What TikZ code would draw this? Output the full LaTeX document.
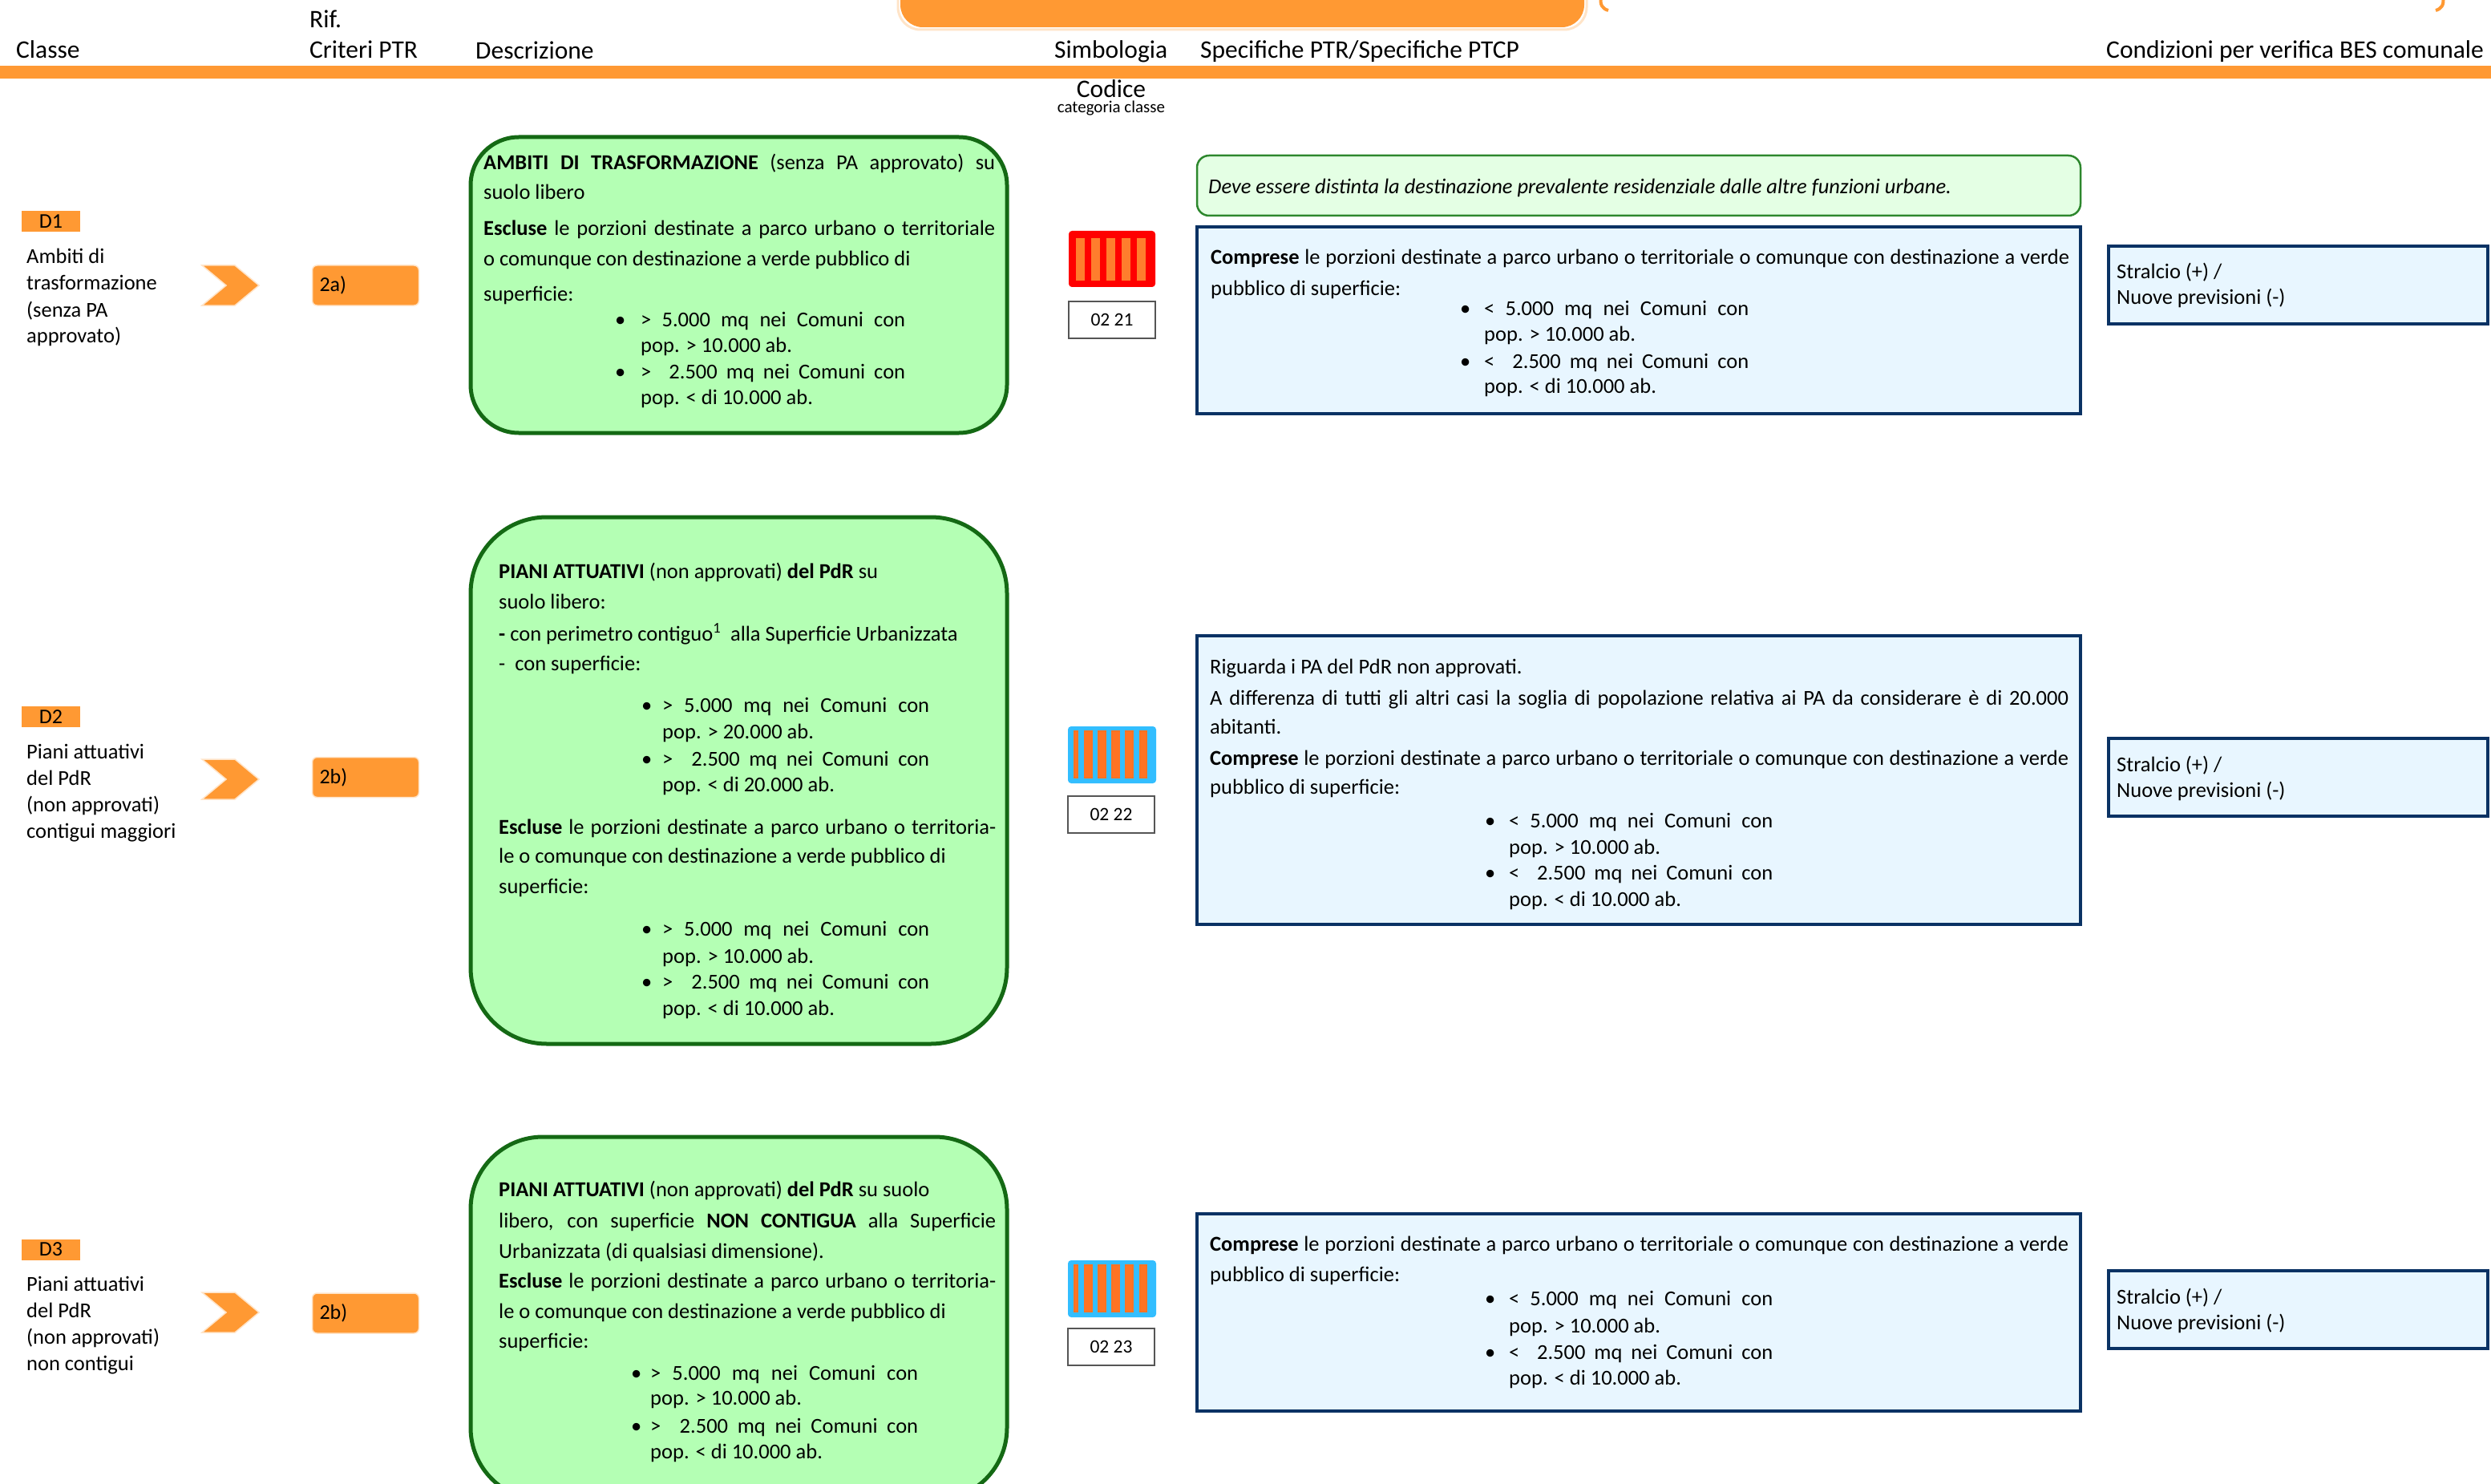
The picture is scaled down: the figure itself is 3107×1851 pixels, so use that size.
\documentclass[tikz,border=0pt]{standalone}
\usepackage{fontspec}
\setmainfont{Carlito}
\usepackage{tikz}
\usetikzlibrary{shapes,arrows}
\definecolor{arancio}{RGB}{255,153,51}
\definecolor{pesca}{RGB}{255,228,200}
\definecolor{verdechiaro}{RGB}{180,255,180}
\definecolor{verdescuro}{RGB}{20,105,20}
\definecolor{verdenota}{RGB}{228,255,228}
\definecolor{verdebordo}{RGB}{45,135,45}
\definecolor{azzurro}{RGB}{232,246,255}
\definecolor{blunotte}{RGB}{10,50,100}
\definecolor{celeste}{RGB}{51,190,255}
\definecolor{rosso}{RGB}{255,0,0}
\definecolor{barra}{RGB}{255,115,35}
\definecolor{barrachiara}{RGB}{255,125,45}
\definecolor{grigio}{RGB}{85,85,85}

\tikzset{
  hdr/.style={anchor=base west, inner sep=0pt, font=\fontsize{31.5}{36}\selectfont},
  txt/.style={anchor=base west, inner sep=0pt, font=\fontsize{26.5}{32}\selectfont},
  tagbox/.style={fill=arancio, minimum width=73pt, minimum height=26pt, inner sep=0pt, font=\fontsize{26}{30}\selectfont},
  rifbox/.style={fill=arancio, draw=pesca, line width=1.5pt, rounded corners=6pt, minimum width=133pt, minimum height=50pt, text width=115pt, align=left, inner sep=9pt, font=\fontsize{26}{30}\selectfont},
  chevron/.style={fill=arancio, draw=pesca, line width=1.5pt},
  greenbox/.style={fill=verdechiaro, draw=verdescuro, line width=5pt},
  notebox/.style={fill=verdenota, draw=verdebordo, line width=2.5pt, rounded corners=15pt},
  bluebox/.style={fill=azzurro, draw=blunotte, line width=3.5pt},
  codebox/.style={draw=grigio, line width=2pt, fill=white, minimum width=108pt, minimum height=46pt, inner sep=0pt, font=\fontsize{23.5}{28}\selectfont}
}

\begin{document}
\begin{tikzpicture}[x=1pt,y=-1pt]
     \clip (0,0) rectangle (3107,1851);
     % testata
     \draw [pesca, line width=3pt, rounded corners=28pt] (1120,-60) rectangle (1979,37);
     \fill [arancio, rounded corners=28pt] (1123,-60) rectangle (1976,34);
     \draw [arancio, line width=4pt] (1997,-4) .. controls (1995,6) and (1999,11) .. (2006,13);
     \draw [arancio, line width=4pt] (3047,-4) .. controls (3049,6) and (3045,11) .. (3038,13);
     \fill [arancio] (0,82) rectangle (3107,98);
     \node [hdr] (hclasse) at (20,73) {Classe};
     \node [hdr] (hrif) at (386,35) {Rif.};
     \node [hdr] (hcriteri) at (386,73) {Criteri PTR};
     \node [hdr] (hdescr) at (593,74) {Descrizione};
     \node [hdr] (hsimb) at (1315,73) {Simbologia};
     \node [hdr] (hspec) at (1497,73) {Specifiche PTR/Specifiche PTCP};
     \node [hdr] (hcond) at (2627,73) {Condizioni per verifica BES comunale};
     \node [hdr, anchor=base] (hcodice) at (1386,122) {Codice};
     \node [anchor=base, inner sep=0pt, font=\fontsize{21}{24}\selectfont] (hcat) at (1386,141) {categoria classe};

     % riga D1
     \node [tagbox] (tag1) at (63.5,276) {D1};
     \node [txt] (cl1a) at (33,329) {Ambiti di};
     \node [txt] (cl1b) at (33,362) {trasformazione};
     \node [txt] (cl1c) at (33,395) {(senza PA};
     \node [txt] (cl1d) at (33,427) {approvato)};
     \draw [chevron] (252,331) -- (293,331) -- (323,356) -- (293,381) -- (252,381) -- (282,356) -- cycle;
     \node [rifbox] (rif1) at (456,356) {2a)};
     \draw [greenbox, rounded corners=60pt] (587,171) rectangle (1256,540);
     \node [txt] (ds1a) at (603,212) {\makebox[638pt][s]{\textbf{AMBITI DI TRASFORMAZIONE} (senza PA approvato) su}};
     \node [txt] (ds1b) at (603,249) {suolo libero};
     \node [txt] (ds1c) at (603,294) {\makebox[638pt][s]{\textbf{Escluse} le porzioni destinate a parco urbano o territoriale}};
     \node [txt] (ds1d) at (603,332) {o comunque con destinazione a verde pubblico di};
     \node [txt] (ds1e) at (603,375) {superficie:};
     \node [txt] (ds1f) at (767,407) {\makebox[32pt][l]{\textbullet}\makebox[330pt][s]{> 5.000 mq nei Comuni con}};
     \node [txt] (ds1g) at (799,439) {pop. > 10.000 ab.};
     \node [txt] (ds1h) at (767,472) {\makebox[32pt][l]{\textbullet}\makebox[330pt][s]{>\ \ 2.500 mq nei Comuni con}};
     \node [txt] (ds1i) at (799,504) {pop. < di 10.000 ab.};
     \fill [rosso, rounded corners=4pt] (1333,288) rectangle (1441,358);
     \fill [barrachiara] (1342,297) rectangle (1353,350);
     \fill [barrachiara] (1361,297) rectangle (1372,350);
     \fill [barrachiara] (1380,297) rectangle (1391,350);
     \fill [barrachiara] (1399,297) rectangle (1410,350);
     \fill [barrachiara] (1418,297) rectangle (1429,350);
     \node [codebox] (code1) at (1387,398.5) {02 21};
     \draw [notebox] (1493,194) rectangle (2595,269);
     \node [txt, font=\fontsize{26.5}{30}\selectfont\itshape] (nota1) at (1507,242) {Deve essere distinta la destinazione prevalente residenziale dalle altre funzioni urbane.};
     \draw [bluebox] (1493,283) rectangle (2595,516);
     \node [txt] (sp1a) at (1510,330) {\makebox[1071pt][s]{\textbf{Comprese} le porzioni destinate a parco urbano o territoriale o comunque con destinazione a verde}};
     \node [txt] (sp1b) at (1510,369) {pubblico di superficie:};
     \node [txt] (sp1c) at (1821,393) {\makebox[30pt][l]{\textbullet}\makebox[330pt][s]{< 5.000 mq nei Comuni con}};
     \node [txt] (sp1d) at (1851,425) {pop. > 10.000 ab.};
     \node [txt] (sp1e) at (1821,459) {\makebox[30pt][l]{\textbullet}\makebox[330pt][s]{<\ \ 2.500 mq nei Comuni con}};
     \node [txt] (sp1f) at (1851,490) {pop. < di 10.000 ab.};
     \draw [bluebox] (2630,307) rectangle (3103,404);
     \node [txt] (bes1a) at (2640,348) {Stralcio (+) /};
     \node [txt] (bes1b) at (2640,380) {Nuove previsioni (-)};

     % riga D2
     \node [tagbox] (tag2) at (63.5,894) {D2};
     \node [txt] (cl2a) at (33,946) {Piani attuativi};
     \node [txt] (cl2b) at (33,979) {del PdR};
     \node [txt] (cl2c) at (33,1012) {(non approvati)};
     \node [txt] (cl2d) at (33,1045) {contigui maggiori};
     \draw [chevron] (252,947) -- (293,947) -- (323,972) -- (293,997) -- (252,997) -- (282,972) -- cycle;
     \node [rifbox] (rif2) at (456,969.5) {2b)};
     \draw [greenbox, rounded corners=95pt] (587,645) rectangle (1256,1302);
     \node [txt] (ds2a) at (622,721) {\textbf{PIANI ATTUATIVI} (non approvati) \textbf{del PdR} su};
     \node [txt] (ds2b) at (622,759) {suolo libero:};
     \node [txt] (ds2c) at (622,799) {\textbf{-} con perimetro contiguo\textsuperscript{1}\ \ alla Superficie Urbanizzata};
     \node [txt] (ds2d) at (622,836) {-\ \ con superficie:};
     \node [txt] (ds2e) at (800,888) {\makebox[26pt][l]{\textbullet}\makebox[333pt][s]{> 5.000 mq nei Comuni con}};
     \node [txt] (ds2f) at (826,921) {pop. > 20.000 ab.};
     \node [txt] (ds2g) at (800,955) {\makebox[26pt][l]{\textbullet}\makebox[333pt][s]{>\ \ 2.500 mq nei Comuni con}};
     \node [txt] (ds2h) at (826,987) {pop. < di 20.000 ab.};
     \node [txt] (ds2i) at (622,1040) {\makebox[620pt][s]{\textbf{Escluse} le porzioni destinate a parco urbano o territoria-}};
     \node [txt] (ds2j) at (622,1076) {le o comunque con destinazione a verde pubblico di};
     \node [txt] (ds2k) at (622,1114) {superficie:};
     \node [txt] (ds2l) at (800,1167) {\makebox[26pt][l]{\textbullet}\makebox[333pt][s]{> 5.000 mq nei Comuni con}};
     \node [txt] (ds2m) at (826,1201) {pop. > 10.000 ab.};
     \node [txt] (ds2n) at (800,1233) {\makebox[26pt][l]{\textbullet}\makebox[333pt][s]{>\ \ 2.500 mq nei Comuni con}};
     \node [txt] (ds2o) at (826,1266) {pop. < di 10.000 ab.};
     \fill [celeste, rounded corners=4pt] (1332,906) rectangle (1442,977);
     \fill [barra] (1339,911) rectangle (1345,971);
     \fill [barra] (1352,911) rectangle (1363,971);
     \fill [barra] (1369,911) rectangle (1380,971);
     \fill [barra] (1386,911) rectangle (1397,971);
     \fill [barra] (1403,911) rectangle (1414,971);
     \fill [barra] (1421,911) rectangle (1431,971);
     \node [codebox] (code2) at (1386,1016) {02 22};
     \draw [bluebox] (1493,793) rectangle (2595,1153);
     \node [txt] (sp2a) at (1509,840) {Riguarda i PA del PdR non approvati.};
     \node [txt] (sp2b) at (1509,879) {\makebox[1071pt][s]{A differenza di tutti gli altri casi la soglia di popolazione relativa ai PA da considerare è di 20.000}};
     \node [txt] (sp2c) at (1509,915) {abitanti.};
     \node [txt] (sp2d) at (1509,954) {\makebox[1071pt][s]{\textbf{Comprese} le porzioni destinate a parco urbano o territoriale o comunque con destinazione a verde}};
     \node [txt] (sp2e) at (1509,990) {pubblico di superficie:};
     \node [txt] (sp2f) at (1852,1032) {\makebox[30pt][l]{\textbullet}\makebox[329pt][s]{< 5.000 mq nei Comuni con}};
     \node [txt] (sp2g) at (1882,1065) {pop. > 10.000 ab.};
     \node [txt] (sp2h) at (1852,1097) {\makebox[30pt][l]{\textbullet}\makebox[329pt][s]{<\ \ 2.500 mq nei Comuni con}};
     \node [txt] (sp2i) at (1882,1130) {pop. < di 10.000 ab.};
     \draw [bluebox] (2630,921) rectangle (3103,1018);
     \node [txt] (bes2a) at (2640,962) {Stralcio (+) /};
     \node [txt] (bes2b) at (2640,994) {Nuove previsioni (-)};

     % riga D3
     \node [tagbox] (tag3) at (63.5,1558.5) {D3};
     \node [txt] (cl3a) at (33,1610) {Piani attuativi};
     \node [txt] (cl3b) at (33,1643) {del PdR};
     \node [txt] (cl3c) at (33,1676) {(non approvati)};
     \node [txt] (cl3d) at (33,1709) {non contigui};
     \draw [chevron] (252,1612) -- (293,1612) -- (323,1637) -- (293,1662) -- (252,1662) -- (282,1637) -- cycle;
     \node [rifbox] (rif3) at (456,1638) {2b)};
     \draw [greenbox, rounded corners=90pt] (587,1418) rectangle (1256,1871);
     \node [txt] (ds3a) at (622,1492) {\textbf{PIANI ATTUATIVI} (non approvati) \textbf{del PdR} su suolo};
     \node [txt] (ds3b) at (622,1531) {\makebox[620pt][s]{libero, con superficie \textbf{NON CONTIGUA} alla Superficie}};
     \node [txt] (ds3c) at (622,1569) {Urbanizzata (di qualsiasi dimensione).};
     \node [txt] (ds3d) at (622,1606) {\makebox[620pt][s]{\textbf{Escluse} le porzioni destinate a parco urbano o territoria-}};
     \node [txt] (ds3e) at (622,1644) {le o comunque con destinazione a verde pubblico di};
     \node [txt] (ds3f) at (622,1681) {superficie:};
     \node [txt] (ds3g) at (787,1721) {\makebox[24pt][l]{\textbullet}\makebox[334pt][s]{> 5.000 mq nei Comuni con}};
     \node [txt] (ds3h) at (811,1752) {pop. > 10.000 ab.};
     \node [txt] (ds3i) at (787,1787) {\makebox[24pt][l]{\textbullet}\makebox[334pt][s]{>\ \ 2.500 mq nei Comuni con}};
     \node [txt] (ds3j) at (811,1819) {pop. < di 10.000 ab.};
     \fill [celeste, rounded corners=4pt] (1332,1572) rectangle (1442,1643);
     \fill [barra] (1339,1577) rectangle (1345,1637);
     \fill [barra] (1352,1577) rectangle (1363,1637);
     \fill [barra] (1369,1577) rectangle (1380,1637);
     \fill [barra] (1386,1577) rectangle (1397,1637);
     \fill [barra] (1403,1577) rectangle (1414,1637);
     \fill [barra] (1421,1577) rectangle (1431,1637);
     \node [codebox] (code3) at (1386,1680) {02 23};
     \draw [bluebox] (1493,1514) rectangle (2595,1760);
     \node [txt] (sp3a) at (1509,1560) {\makebox[1071pt][s]{\textbf{Comprese} le porzioni destinate a parco urbano o territoriale o comunque con destinazione a verde}};
     \node [txt] (sp3b) at (1509,1598) {pubblico di superficie:};
     \node [txt] (sp3c) at (1852,1628) {\makebox[30pt][l]{\textbullet}\makebox[329pt][s]{< 5.000 mq nei Comuni con}};
     \node [txt] (sp3d) at (1882,1662) {pop. > 10.000 ab.};
     \node [txt] (sp3e) at (1852,1695) {\makebox[30pt][l]{\textbullet}\makebox[329pt][s]{<\ \ 2.500 mq nei Comuni con}};
     \node [txt] (sp3f) at (1882,1727) {pop. < di 10.000 ab.};
     \draw [bluebox] (2630,1585) rectangle (3103,1682);
     \node [txt] (bes3a) at (2640,1626) {Stralcio (+) /};
     \node [txt] (bes3b) at (2640,1658) {Nuove previsioni (-)};
 \end{tikzpicture}
\end{document}
